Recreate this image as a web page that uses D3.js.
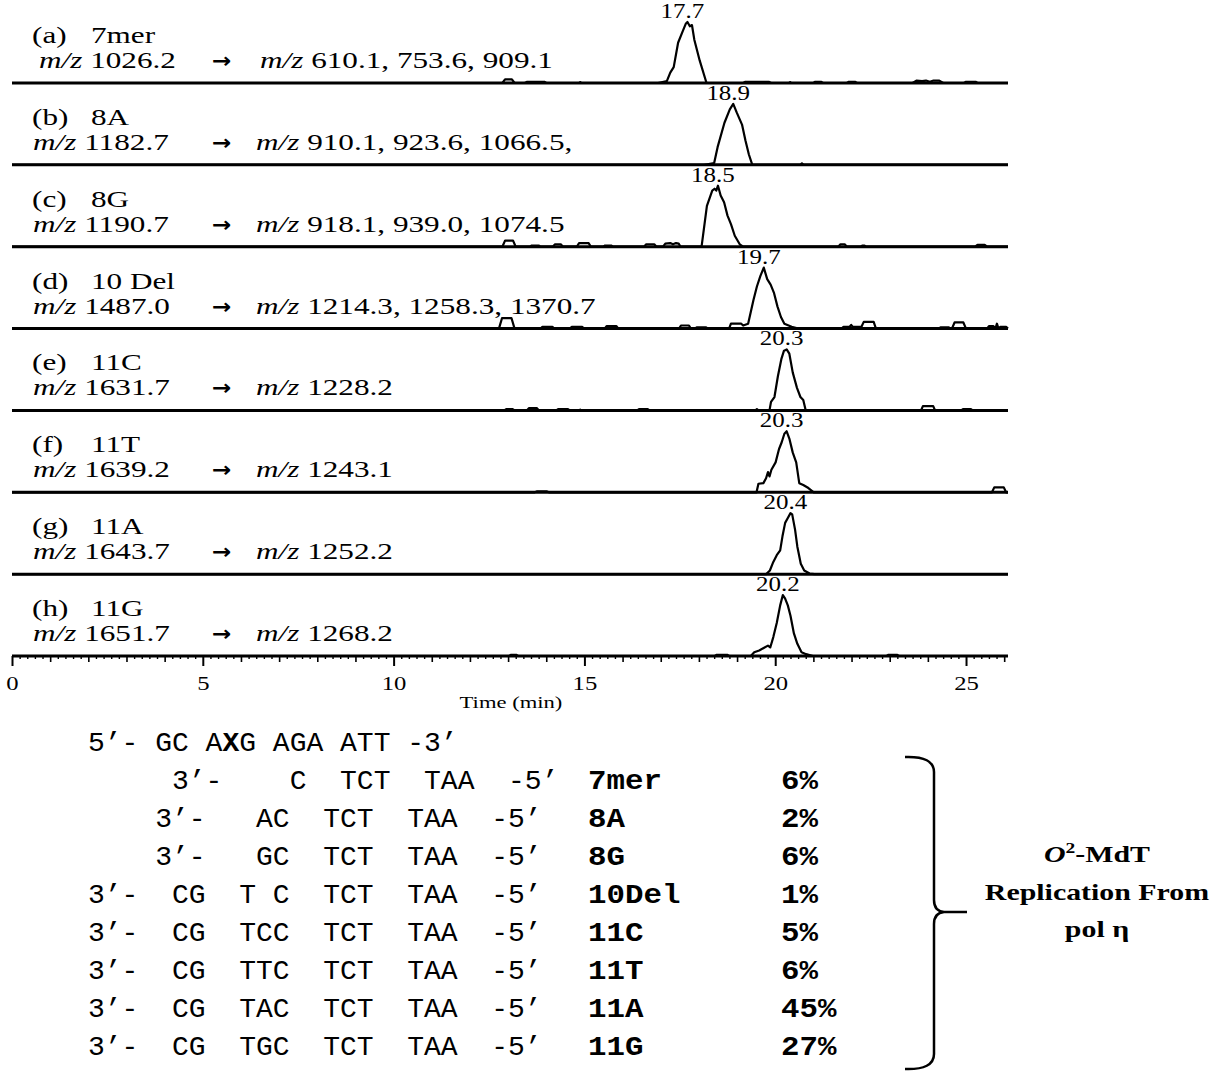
<!DOCTYPE html>
<html>
<head>
<meta charset="utf-8">
<script src="https://cdn.jsdelivr.net/npm/d3@7"></script>
<style>
  body { margin: 0; background: #fff; }
  svg { display: block; }
</style>
</head>
<body>
<svg id="chart" width="1225" height="1076"></svg>
<script>
// ---- Chromatogram panels: labels and transitions ----
const panelLetters = ["a", "b", "c", "d", "e", "f", "g", "h"];
const panelNames = ["7mer", "8A", "8G", "10 Del", "11C", "11T", "11A", "11G"];
const precursorMz = ["1026.2", "1182.7", "1190.7", "1487.0", "1631.7", "1639.2", "1643.7", "1651.7"];
const productMz = [
  "610.1, 753.6, 909.1",
  "910.1, 923.6, 1066.5,",
  "918.1, 939.0, 1074.5",
  "1214.3, 1258.3, 1370.7",
  "1228.2",
  "1243.1",
  "1252.2",
  "1268.2"
];

// Retention time (min) of each peak apex
const retentionTimes = [17.7, 18.9, 18.5, 19.7, 20.3, 20.3, 20.4, 20.2];

// Peak profiles: [minutes from apex, relative intensity %]
const peakA = [[-0.77,0],[-0.54,3],[-0.45,17],[-0.36,26],[-0.245,66],[-0.136,83],[-0.045,97],[0,100],[0.063,93],[0.118,95],[0.18,71],[0.32,37],[0.50,0]];
const peakB = [[-0.77,0],[-0.68,1],[-0.50,3],[-0.41,29],[-0.23,69],[-0.09,91],[0,100],[0.09,86],[0.23,66],[0.32,40],[0.41,17],[0.50,0]];
const peakC = [[-0.43,0],[-0.29,67],[-0.15,92],[-0.09,95],[-0.045,92],[0,100],[0.07,84],[0.16,73],[0.25,51],[0.34,37],[0.44,18],[0.57,4],[0.66,0]];
const peakD = [[-0.91,0],[-0.86,8],[-0.59,8],[-0.54,5],[-0.41,8],[-0.27,47],[-0.18,69],[-0.09,86],[0,100],[0.09,81],[0.18,72],[0.27,58],[0.36,36],[0.45,19],[0.54,8],[0.73,3],[0.91,0]];
const peakE = [[-0.45,0],[-0.41,14],[-0.32,22],[-0.23,56],[-0.14,84],[-0.07,98],[0,100],[0.07,93],[0.16,62],[0.27,37],[0.36,22],[0.435,17],[0.50,0]];
const peakF = [[-0.79,0],[-0.74,14],[-0.61,15],[-0.54,23],[-0.49,33],[-0.45,26],[-0.40,37],[-0.29,49],[-0.20,71],[-0.13,82],[-0.06,96],[0,100],[0.07,88],[0.16,65],[0.25,49],[0.33,15],[0.435,12],[0.57,7],[0.71,0]];
const peakG = [[-0.635,0],[-0.54,6],[-0.45,20],[-0.36,31],[-0.27,39],[-0.21,62],[-0.14,84],[-0.07,92],[0,100],[0.045,98],[0.12,73],[0.18,45],[0.27,17],[0.36,6],[0.50,1],[0.635,0]];
const peakH = [[-0.84,0],[-0.75,6],[-0.62,9],[-0.48,14],[-0.39,17],[-0.33,14],[-0.25,31],[-0.16,54],[-0.07,83],[0,100],[0.06,94],[0.13,83],[0.20,66],[0.29,37],[0.38,20],[0.49,6],[0.61,3],[0.79,0]];

// Baseline noise: [time (min), relative intensity %]
const noiseA = [[12.85,0],[12.92,6],[13.10,6],[13.17,0],[13.44,0],[13.5,2],[13.95,2],[14.0,0],[14.86,0],[14.89,1.5],[14.92,0],
  [19.16,0],[19.22,2],[19.83,2],[19.89,0],[20.36,0],[20.39,1.5],[20.42,0],[21.0,0],[21.05,2],[21.2,2],[21.25,0],
  [21.88,0],[21.93,2],[22.09,2],[22.14,0],[23.6,0],[23.7,4],[23.85,3],[23.95,4],[24.05,2],[24.15,4],[24.3,4],[24.4,0],
  [24.95,0],[25.0,2],[25.25,2],[25.3,0]];
const noiseB = [[20.66,0],[20.70,2.5],[20.74,0]];
const noiseC = [[12.85,0],[12.92,10],[13.13,10],[13.2,0],[13.57,0],[13.62,2],[13.8,2],[13.85,0],[14.17,0],[14.23,4],[14.38,4],[14.44,0],
  [14.8,0],[14.86,6],[15.11,6],[15.17,0],[15.49,0],[15.54,2],[15.7,2],[15.75,0],[16.56,0],[16.62,4],[16.83,4],[16.89,0],
  [17.06,0],[17.12,5],[17.25,6],[17.32,4],[17.4,6],[17.47,5],[17.52,0],[21.65,0],[21.71,4],[21.82,4],[21.88,0],
  [22.24,0],[22.28,2],[22.34,2],[22.38,0],[25.24,0],[25.3,3],[25.49,3],[25.55,0]];
const noiseD = [[12.76,0],[12.84,17],[13.09,17],[13.17,0],[13.85,0],[13.9,3],[14.16,3],[14.21,0],[14.62,0],[14.67,3],[14.94,3],[14.99,0],
  [15.53,0],[15.58,4],[15.84,4],[15.89,0],[17.48,0],[17.53,5],[17.74,5],[17.79,0],[17.89,0],[17.94,2],[18.19,2],[18.24,0],
  [21.74,0],[21.79,3],[21.95,3],[21.99,6],[22.03,3],[22.26,3],[22.32,11],[22.58,11],[22.64,0],
  [24.28,0],[24.33,2],[24.55,2],[24.6,0],[24.63,0],[24.7,10],[24.93,10],[25.0,0],
  [25.55,0],[25.6,4],[25.72,4],[25.77,0],[25.81,8],[25.85,0],[25.9,3],[26.05,3]];
const noiseE = [[12.9,0],[12.95,2],[13.12,2],[13.17,0],[13.49,0],[13.55,4],[13.75,4],[13.81,0],[14.26,0],[14.31,2],[14.57,2],[14.62,0],
  [14.86,0],[14.89,1.5],[14.92,0],[16.38,0],[16.43,2],[16.66,2],[16.71,0],[19.48,0],[19.52,2],[19.56,0],
  [23.82,0],[23.87,7],[24.14,7],[24.19,0],[24.87,0],[24.92,2],[25.13,2],[25.18,0]];
const noiseF = [[13.7,0],[13.75,1.5],[14.02,1.5],[14.07,0],[25.68,0],[25.74,8],[25.99,8],[26.05,0]];
const noiseG = [];
const noiseH = [[13.03,0],[13.08,2],[13.21,2],[13.26,0],[18.42,0],[18.47,2],[18.74,2],[18.79,0],[22.92,0],[22.97,2],[23.19,2],[23.24,0]];

const peakProfiles = [peakA, peakB, peakC, peakD, peakE, peakF, peakG, peakH];
const baselineNoise = [noiseA, noiseB, noiseC, noiseD, noiseE, noiseF, noiseG, noiseH];

// Time axis ticks
const timeDomain = [0, 26.1];
const majorTicks = [0, 5, 10, 15, 20, 25];

// ---- Replication products table ----
const templateStrand = "5’- GC AXG AGA ATT -3’";
const productStrands = [
  "     3’-    C  TCT  TAA  -5’",
  "    3’-   AC  TCT  TAA  -5’",
  "    3’-   GC  TCT  TAA  -5’",
  "3’-  CG  T C  TCT  TAA  -5’",
  "3’-  CG  TCC  TCT  TAA  -5’",
  "3’-  CG  TTC  TCT  TAA  -5’",
  "3’-  CG  TAC  TCT  TAA  -5’",
  "3’-  CG  TGC  TCT  TAA  -5’"
];
const productNames = ["7mer", "8A", "8G", "10Del", "11C", "11T", "11A", "11G"];
const productPercents = ["6%", "2%", "6%", "1%", "5%", "6%", "45%", "27%"];

// ---- Drawing ----
const SERIF = "'Liberation Serif','Times New Roman',serif";
const MONO = "'Liberation Mono','Courier New',monospace";
const svg = d3.select("#chart");

const x = d3.scaleLinear().domain(timeDomain).range([12, 1008]);
const panelY = d3.scalePoint().domain(d3.range(8)).range([83, 656]);
const y = d3.scaleLinear().domain([0, 100]).range([0, -61]);
const line = d3.line().x(d => x(d[0])).y(d => y(d[1]));

// horizontally widened text, anchored at (px, py)
function wideText(parent, px, py, sx) {
  return parent.append("text")
    .attr("transform", `translate(${px},${py}) scale(${sx},1)`)
    .style("white-space", "pre");
}

d3.range(8).forEach(i => {
  const g = svg.append("g").attr("transform", `translate(0,${panelY(i)})`);

  // trace = baseline noise + peak profile placed at its retention time
  const rt = retentionTimes[i];
  const pts = baselineNoise[i]
    .concat(peakProfiles[i].map(([dt, v]) => [rt + dt, v]))
    .sort((p, q) => p[0] - q[0]);
  const trace = [[timeDomain[0], 0]].concat(pts, [[timeDomain[1], 0]]);

  g.append("line")
    .attr("x1", x(timeDomain[0])).attr("x2", x(timeDomain[1]))
    .attr("y1", 0).attr("y2", 0)
    .attr("stroke", "#000").attr("stroke-width", 3);

  g.append("path")
    .attr("d", line(trace))
    .attr("fill", "none").attr("stroke", "#000")
    .attr("stroke-width", 2.2).attr("stroke-linejoin", "round");

  // retention time label above apex
  const apex = d3.greatest(trace, d => d[1]);
  wideText(g, x(apex[0]) - 5, y(apex[1]) - 4, 1.25)
    .attr("text-anchor", "middle")
    .attr("font-family", SERIF).attr("font-size", 20)
    .text(rt.toFixed(1));

  // panel title
  wideText(g, 32, -40, 1.3).attr("font-family", SERIF).attr("font-size", 24)
    .text(`(${panelLetters[i]})`);
  wideText(g, 91, -40, 1.3).attr("font-family", SERIF).attr("font-size", 24)
    .text(panelNames[i]);

  // MRM transition
  const pre = wideText(g, i === 0 ? 39 : 33, -15, 1.3)
    .attr("font-family", SERIF).attr("font-size", 24);
  pre.append("tspan").attr("font-style", "italic").text("m/z");
  pre.append("tspan").text(" " + precursorMz[i]);

  wideText(g, 212, -15, 1.1)
    .attr("font-family", "'DejaVu Sans',sans-serif").attr("font-weight", "bold")
    .attr("font-size", 21).text("→");

  const prod = wideText(g, i === 0 ? 260 : 256, -15, 1.3)
    .attr("font-family", SERIF).attr("font-size", 24);
  prod.append("tspan").attr("font-style", "italic").text("m/z");
  prod.append("tspan").text(" " + productMz[i]);
});

// ---- time axis on the last panel ----
const axisG = svg.append("g").attr("transform", `translate(0,${panelY(7)})`);
const isInt = v => Math.abs(v - Math.round(v)) < 1e-6;
const minorVals = d3.range(0, 262, 2).map(k => k / 10).filter(v => v <= timeDomain[1] && !isInt(v));
const unitVals = d3.range(1, 27).filter(v => v % 5 !== 0 && v <= timeDomain[1]);

function tickLayer(vals, size, width) {
  const a = axisG.append("g")
    .call(d3.axisBottom(x).tickValues(vals).tickSize(size).tickSizeOuter(0).tickFormat(""));
  a.select(".domain").remove();
  a.selectAll("line").attr("stroke", "#000").attr("stroke-width", width);
  return a;
}
tickLayer(minorVals, 3, 1.4);
tickLayer(unitVals, 6, 1.6);
const majorG = axisG.append("g")
  .call(d3.axisBottom(x).tickValues(majorTicks).tickSize(10).tickSizeOuter(0).tickFormat(d3.format("d")));
majorG.select(".domain").remove();
majorG.selectAll("line").attr("stroke", "#000").attr("stroke-width", 2);
majorG.selectAll("text")
  .attr("y", 0).attr("dy", 0)
  .attr("transform", "translate(0,34) scale(1.3,1)")
  .attr("fill", "#000")
  .attr("font-family", SERIF).attr("font-size", 19);

wideText(svg, 511, 708, 1.33)
  .attr("text-anchor", "middle")
  .attr("font-family", SERIF).attr("font-size", 17)
  .text("Time (min)");

// ---- sequence table ----
const rowY = d3.scalePoint().domain(d3.range(9)).range([751, 1055]);
const seqX = 88;

const templateText = svg.append("text")
  .attr("x", seqX).attr("y", rowY(0))
  .attr("font-family", MONO).attr("font-size", 28)
  .style("white-space", "pre");
const strandParts = templateStrand.split("X");
templateText.append("tspan").text(strandParts[0]);
templateText.append("tspan").attr("font-weight", "bold").text("X");
templateText.append("tspan").text(strandParts[1]);

productStrands.forEach((s, i) => {
  svg.append("text")
    .attr("x", seqX).attr("y", rowY(i + 1))
    .attr("font-family", MONO).attr("font-size", 28)
    .style("white-space", "pre")
    .text(s);
  wideText(svg, 588, rowY(i + 1), 1.1)
    .attr("font-family", MONO).attr("font-size", 28).attr("font-weight", "bold")
    .text(productNames[i]);
  wideText(svg, 781, rowY(i + 1), 1.1)
    .attr("font-family", MONO).attr("font-size", 28).attr("font-weight", "bold")
    .text(productPercents[i]);
});

// ---- brace and caption ----
svg.append("path")
  .attr("d", "M905,757 Q934,756 934,772 L934,900 Q934,911 944,912 L967,912 M944,912 Q934,913 934,924 L934,1054 Q934,1070 905,1069")
  .attr("fill", "none").attr("stroke", "#000").attr("stroke-width", 2.5);

const cap1 = wideText(svg, 1097, 862, 1.3)
  .attr("text-anchor", "middle")
  .attr("font-family", SERIF).attr("font-size", 23).attr("font-weight", "bold");
cap1.append("tspan").attr("font-style", "italic").text("O");
cap1.append("tspan").attr("font-size", 15).attr("dy", -9).text("2");
cap1.append("tspan").attr("dy", 9).text("-MdT");

wideText(svg, 1097, 900, 1.3)
  .attr("text-anchor", "middle")
  .attr("font-family", SERIF).attr("font-size", 23).attr("font-weight", "bold")
  .text("Replication From");

wideText(svg, 1097, 937, 1.3)
  .attr("text-anchor", "middle")
  .attr("font-family", SERIF).attr("font-size", 23).attr("font-weight", "bold")
  .text("pol η");
</script>
</body>
</html>
